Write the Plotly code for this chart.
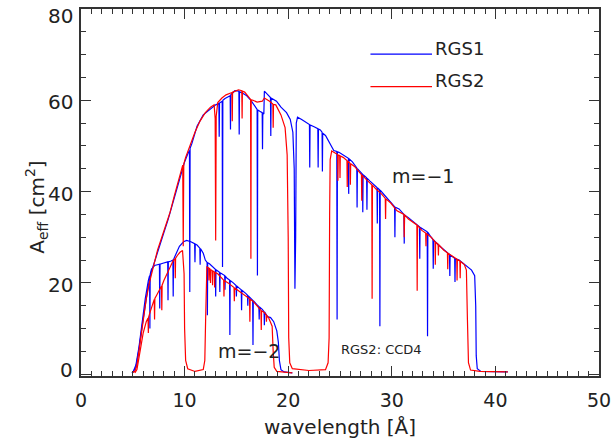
import plotly.graph_objects as go

# ---------------- data ----------------
# RGS1, first order (m=-1): [wavelength (Å), effective area (cm^2)]
rgs1_m1 = [[4.9,0.3],[5.0,0.4],[5.3,1.5],[5.6,5.5],[5.9,10.5],[6.2,15.5],[6.5,19.5],[6.8,22.5],[7.2,25.5],[7.6,28.3],
 [8.0,31.0],[8.4,33.8],[8.8,37.0],[9.2,40.5],[9.6,43.8],[10.0,46.5],[10.35,48.5],[10.47,49.0],[10.5,18.0],[10.53,49.5],
 [10.7,50.5],[11.2,54.3],[11.8,56.8],[12.4,58.0],[13.0,59.0],[13.31,59.3],[13.34,52.0],[13.37,59.4],[13.63,59.8],[13.66,23.5],
 [13.69,60.0],[13.9,60.4],[14.2,60.8],[14.4,61.0],[14.43,53.6],[14.46,61.2],[14.85,62.1],[15.24,62.0],[15.27,52.5],[15.3,61.9],
 [15.65,61.5],[16.0,61.0],[16.4,60.0],[16.8,58.5],[17.0,58.0],[17.03,21.6],[17.06,57.9],[17.26,57.6],[17.49,57.3],[17.52,49.3],
 [17.55,57.2],[17.65,57.0],[17.7,62.0],[18.0,61.3],[18.29,60.6],[18.32,52.2],[18.35,60.5],[18.87,59.8],[19.3,58.5],[19.84,57.3],
 [20.2,55.8],[20.45,53.0],[20.58,45.0],[20.65,18.7],[20.72,30.0],[20.78,55.0],[20.9,56.3],[21.3,55.8],[21.8,55.0],[22.05,54.7],
 [22.08,45.3],[22.11,54.6],[22.5,54.2],[22.86,53.8],[22.89,45.3],[22.92,53.7],[23.1,53.5],[23.27,53.0],[23.3,44.4],[23.33,52.8],
 [23.6,52.3],[24.0,50.8],[24.4,49.0],[24.69,48.8],[24.72,12.0],[24.75,48.7],[24.9,48.6],[25.3,48.0],[25.81,47.3],[25.84,39.5],
 [25.87,47.2],[26.2,46.5],[26.62,45.2],[26.65,36.5],[26.68,45.0],[26.9,44.5],[27.17,43.8],[27.2,35.5],[27.23,43.7],[27.57,43.0],
 [27.6,36.0],[27.63,42.9],[27.9,42.3],[28.57,40.9],[28.6,33.0],[28.63,40.8],[28.82,40.4],[28.85,10.5],[28.88,40.3],[29.3,39.2],
 [30.27,36.7],[30.3,30.0],[30.33,36.6],[30.7,36.2],[31.17,35.0],[31.2,28.6],[31.23,34.9],[31.6,34.3],[32.4,32.8],[32.67,32.3],
 [32.7,25.3],[32.73,32.2],[33.42,31.2],[33.45,8.3],[33.48,31.1],[33.8,30.0],[33.97,29.5],[34.0,23.1],[34.03,29.4],[34.5,28.3],
 [35.3,26.7],[35.57,26.2],[35.6,21.5],[35.63,26.1],[36.07,25.4],[36.1,20.2],[36.13,25.3],[36.5,25.0],[37.2,23.8],[37.7,22.8],
 [38.0,21.6],[38.1,15.0],[38.15,4.0],[38.25,1.2],[38.6,0.6],[41.2,0.5]]

# RGS2, first order (m=-1)
rgs2_m1 = [[4.95,0.4],[5.2,0.6],[5.4,2.0],[5.7,7.0],[6.0,12.0],[6.3,16.5],[6.6,20.0],[7.0,24.0],[7.4,27.3],[7.8,30.0],
 [8.2,32.8],[8.6,35.5],[9.0,39.0],[9.4,42.5],[9.7,45.0],[9.82,45.8],[9.87,28.0],[9.92,46.0],[10.1,47.5],[10.5,50.0],
 [11.0,53.0],[11.5,55.5],[12.0,57.3],[12.5,58.5],[12.85,59.0],[12.95,56.0],[13.0,29.3],[13.05,56.5],[13.2,59.5],[13.6,60.5],
 [14.0,61.2],[14.57,61.7],[14.6,55.4],[14.63,61.8],[14.9,62.0],[15.2,62.3],[15.52,62.1],[15.55,56.0],[15.58,62.0],[15.8,61.8],
 [16.2,60.5],[16.37,60.2],[16.4,25.3],[16.43,60.1],[16.6,60.0],[17.0,59.6],[17.5,59.8],[17.7,60.5],[18.2,59.8],[18.52,59.2],
 [18.55,54.0],[18.58,59.1],[18.8,59.0],[19.3,56.8],[19.7,54.0],[19.9,48.0],[20.0,30.0],[20.05,8.0],[20.15,2.5],[20.4,1.2],
 [22.0,0.8],[23.6,1.0],[23.85,2.5],[23.95,8.0],[24.0,35.0],[24.05,47.0],[24.2,48.9],[24.6,48.3],[24.77,48.1],[24.8,42.4],
 [24.83,48.0],[24.97,47.9],[25.0,43.0],[25.03,47.8],[25.3,47.5],[25.67,46.8],[25.7,41.0],[25.73,46.7],[25.97,46.2],[26.0,41.5],
 [26.03,46.1],[26.4,45.5],[26.9,44.2],[27.07,43.7],[27.1,38.0],[27.13,43.6],[27.6,42.5],[28.07,41.5],[28.1,16.5],[28.13,41.4],
 [28.5,40.5],[29.0,39.5],[29.37,38.5],[29.4,34.0],[29.43,38.4],[29.9,37.5],[30.5,35.8],[31.17,35.0],[31.2,30.0],[31.23,34.9],
 [31.6,34.0],[32.42,32.7],[32.45,18.3],[32.48,32.6],[32.9,31.5],[33.27,30.9],[33.3,28.0],[33.33,30.8],[33.8,30.0],[34.17,29.0],
 [34.2,24.0],[34.23,28.9],[34.47,28.5],[34.5,26.0],[34.53,28.4],[35.0,27.2],[35.37,26.6],[35.4,23.0],[35.43,26.5],[35.9,25.8],
 [36.27,25.2],[36.3,20.5],[36.33,25.1],[36.57,24.8],[36.6,21.0],[36.63,24.7],[37.0,24.0],[37.2,22.8],[37.3,12.0],[37.4,2.5],
 [37.6,0.9],[38.5,0.6],[41.2,0.5]]

# RGS1, second order (m=-2)
rgs1_m2 = [[5.0,0.3],[5.3,2.0],[5.6,6.0],[5.9,11.5],[6.2,16.5],[6.5,20.5],[6.62,21.6],[6.65,10.0],[6.68,21.9],[6.8,23.0],
 [7.1,23.8],[7.57,24.1],[7.6,14.4],[7.63,24.1],[7.9,24.3],[8.37,24.6],[8.4,16.2],[8.43,24.6],[8.7,24.8],[8.87,25.0],
 [8.9,17.0],[8.93,25.1],[9.2,26.5],[9.5,28.0],[9.9,29.0],[10.2,29.3],[10.6,29.0],[10.97,28.6],[11.0,24.5],[11.03,28.5],
 [11.2,28.3],[11.47,27.6],[11.5,24.0],[11.53,27.5],[11.8,26.5],[12.0,25.0],[12.17,24.5],[12.2,12.9],[12.23,24.4],[12.4,24.2],
 [12.97,23.0],[13.0,17.0],[13.03,22.9],[13.2,22.6],[13.37,22.3],[13.4,18.0],[13.43,22.2],[13.87,21.6],[13.9,18.5],[13.93,21.5],
 [14.1,21.0],[14.34,20.6],[14.37,8.6],[14.4,20.5],[14.7,20.0],[14.97,19.4],[15.0,17.0],[15.03,19.3],[15.3,18.8],[15.47,18.5],
 [15.5,14.0],[15.53,18.4],[15.9,17.7],[16.07,17.3],[16.1,15.0],[16.13,17.2],[16.57,16.2],[16.6,6.4],[16.63,16.1],[17.0,15.2],
 [17.17,14.8],[17.2,12.0],[17.23,14.7],[17.5,14.2],[17.67,13.7],[17.7,10.7],[17.73,13.6],[18.0,12.6],[18.3,12.4],[18.6,11.5],
 [18.9,9.5],[19.05,7.0],[19.15,3.0],[19.3,1.0],[19.6,0.5],[20.4,0.3]]

# RGS2, second order (m=-2)
rgs2_m2 = [[5.2,0.3],[5.4,1.0],[5.7,5.0],[6.0,9.0],[6.3,11.5],[6.47,12.3],[6.5,9.0],[6.53,12.5],[6.7,13.8],[6.97,15.8],
 [7.07,16.4],[7.1,12.0],[7.13,16.6],[7.3,17.3],[7.62,18.7],[7.77,19.3],[7.8,14.0],[7.83,19.5],[8.0,20.5],[8.42,22.4],
 [8.9,24.9],[9.07,25.3],[9.1,21.0],[9.13,25.4],[9.3,26.0],[9.55,26.7],[9.8,27.1],[9.95,22.0],[10.0,10.0],[10.1,3.0],
 [10.3,1.2],[11.0,0.6],[11.8,1.0],[11.95,3.0],[12.03,12.0],[12.08,22.0],[12.15,23.5],[12.32,23.3],[12.35,20.5],[12.38,23.2],
 [12.47,23.0],[12.5,20.0],[12.53,22.9],[12.67,22.7],[12.7,19.5],[12.73,22.6],[12.87,22.4],[12.9,19.0],[12.93,22.3],[13.2,22.0],
 [13.6,21.0],[13.77,20.6],[13.8,17.0],[13.83,20.5],[14.2,20.0],[14.6,19.3],[14.77,19.0],[14.8,16.0],[14.83,18.9],[15.2,18.3],
 [15.8,17.3],[16.27,16.5],[16.3,11.5],[16.33,16.4],[16.6,16.0],[17.0,15.0],[17.37,14.0],[17.4,9.7],[17.43,13.9],[17.7,13.5],
 [17.87,13.0],[17.9,11.5],[17.93,12.9],[18.1,12.4],[18.3,11.5],[18.45,10.5],[18.55,5.0],[18.65,1.5],[18.9,0.6],[20.4,0.3]]

series_names = ["RGS1", "RGS2"]
series_colors = ["#0000ff", "#ff0000"]
x_ticks = [0, 10, 20, 30, 40, 50]
y_ticks = [0, 20, 40, 60, 80]
y_tick_labels = ["0", "20", "40", "60", "80"]

FONT = "DejaVu Sans"
TXT = "#222222"

fig = go.Figure()
for data, name, col in [(rgs1_m2, "RGS1", series_colors[0]), (rgs1_m1, "RGS1", series_colors[0]),
                        (rgs2_m2, "RGS2", series_colors[1]), (rgs2_m1, "RGS2", series_colors[1])]:
    fig.add_trace(go.Scatter(x=[p[0] for p in data], y=[p[1] for p in data], mode="lines",
                             line=dict(color=col, width=1.2), name=name, showlegend=False,
                             hoverinfo="skip"))

# legend drawn IDL-style (lines + labels)
leg_y = [70.1, 63.0]
for i, (nm, col) in enumerate(zip(series_names, series_colors)):
    fig.add_shape(type="line", xref="x", yref="y", x0=27.94, x1=33.88, y0=leg_y[i], y1=leg_y[i],
                  line=dict(color=col, width=1.2))
    fig.add_annotation(x=34.0, y=leg_y[i] + 1.3, text=nm, showarrow=False, xanchor="left",
                       font=dict(family=FONT, size=18, color=TXT))

fig.add_annotation(x=33.04, y=43.4, text="m=\u22121", showarrow=False,
                   font=dict(family=FONT, size=19, color=TXT))
fig.add_annotation(x=16.2, y=5.0, text="m=\u22122", showarrow=False,
                   font=dict(family=FONT, size=19, color=TXT))
fig.add_annotation(x=29.05, y=5.4, text="RGS2: CCD4", showarrow=False,
                   font=dict(family=FONT, size=13, color=TXT))

# y tick labels placed IDL-style (end labels pulled inside the frame)
label_shift = {0: 4, 20: -2, 40: -2, 60: -2, 80: -7}
for v, t in zip(y_ticks, y_tick_labels):
    fig.add_annotation(xref="paper", x=0, yref="y", y=v, text=t, showarrow=False, xanchor="right",
                       xshift=-6, yshift=label_shift[v], font=dict(family=FONT, size=20, color=TXT))

# y axis title
fig.add_annotation(xref="paper", x=0, yref="paper", y=0.46, xshift=-61, textangle=-90,
                   text="A<sub>eff</sub> [cm<sup>2</sup>]", showarrow=False,
                   font=dict(family=FONT, size=20, color=TXT))

axis_common = dict(showgrid=False, zeroline=False, showline=True, linecolor="#333333", linewidth=1.5,
                   ticks="inside", tickcolor="#333333", tickwidth=1.3, ticklen=10, mirror="allticks",
                   automargin=False, ticklabeloverflow="allow")

fig.update_layout(
    width=611, height=443,
    margin=dict(l=81, r=12, t=9, b=67),
    paper_bgcolor="white", plot_bgcolor="white",
    showlegend=False,
    xaxis=dict(range=[0, 50], tickvals=x_ticks, ticktext=[str(v) for v in x_ticks],
               minor=dict(dtick=1, ticklen=5, ticks="inside", tickcolor="#333333", tickwidth=1.1),
               tickfont=dict(family=FONT, size=19, color=TXT), ticklabelstandoff=6,
               title=dict(text="wavelength [Å]", font=dict(family=FONT, size=20, color=TXT), standoff=10),
               **axis_common),
    yaxis=dict(range=[-0.4, 80], tickvals=y_ticks, showticklabels=False,
               minor=dict(dtick=5, ticklen=5, ticks="inside", tickcolor="#333333", tickwidth=1.1),
               **axis_common),
)

fig.write_html("out.html", post_script="document.body.style.margin='0px';",
               config={"displayModeBar": False})
